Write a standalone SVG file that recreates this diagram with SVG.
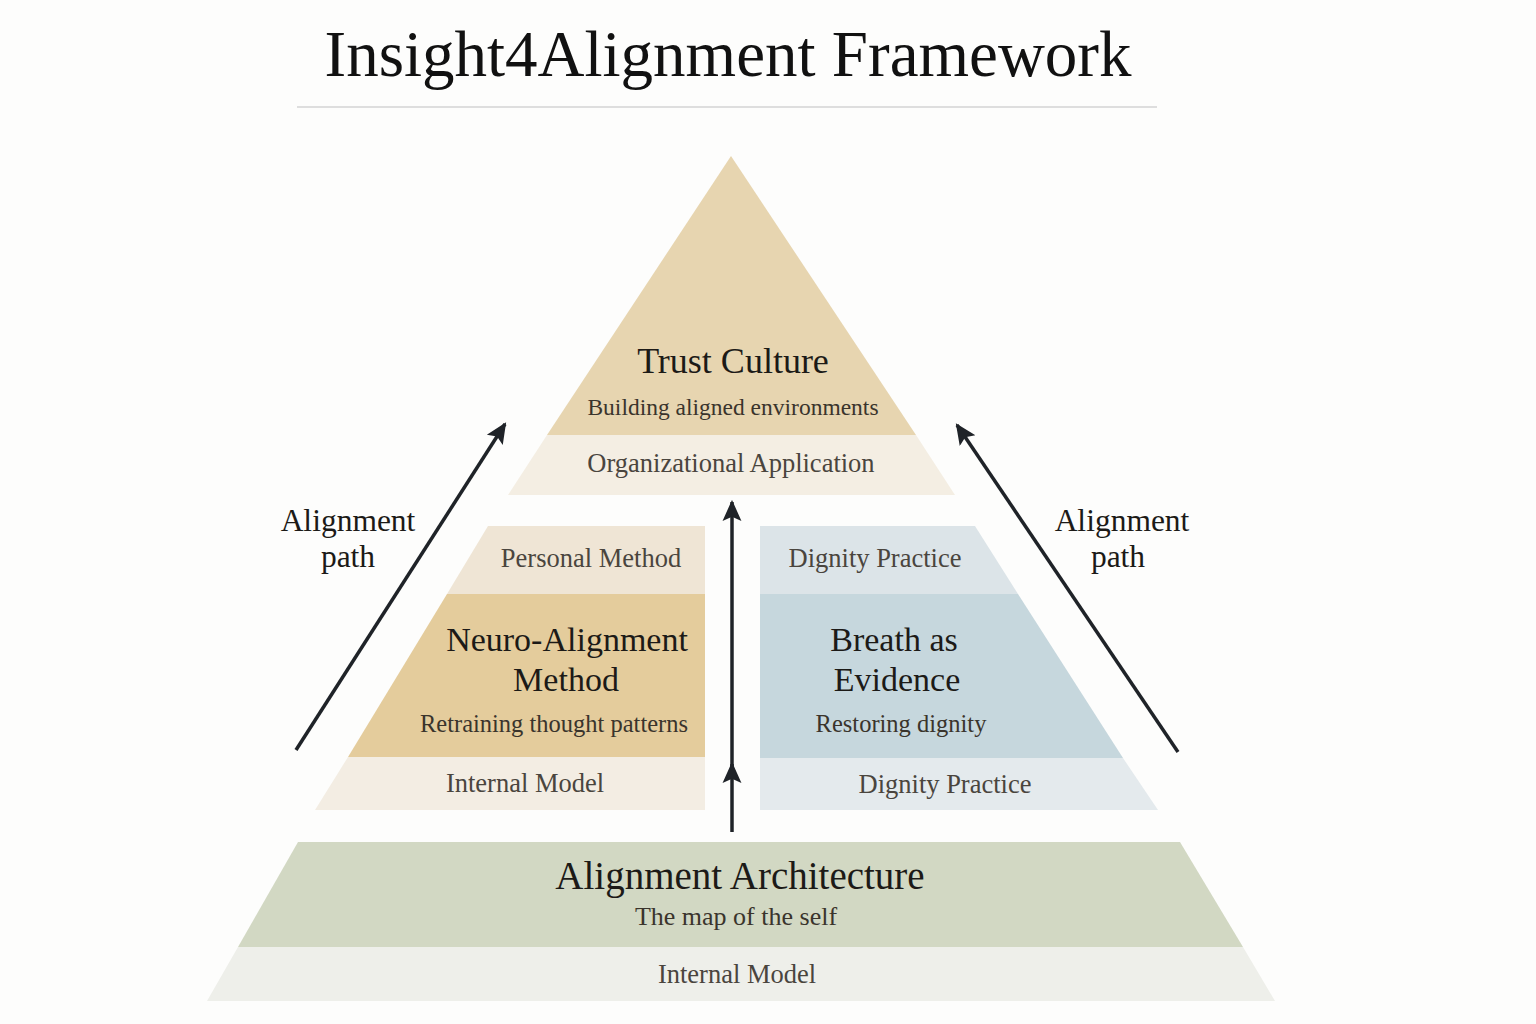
<svg xmlns="http://www.w3.org/2000/svg" width="1536" height="1024" viewBox="0 0 1536 1024">
<defs>
<marker id="ah" viewBox="0 0 20 20" refX="18" refY="10" markerWidth="21" markerHeight="21" markerUnits="userSpaceOnUse" orient="auto">
<path d="M0,1 L20,10 L0,19 L4,10 Z" fill="#1f2328"/>
</marker>
<style>
text{font-family:"Liberation Serif","DejaVu Serif",serif;text-anchor:middle}
.title{font-size:65px;fill:#111}
.h{font-size:34px;fill:#1c1a17}
.s{font-size:24.5px;fill:#3a342c}
.b{font-size:26.5px;fill:#4a453e}
.ap{font-size:31.5px;fill:#1c1a17}
.arr{stroke:#1f2328;stroke-width:3.5;fill:none}
</style>
</defs>
<rect width="1536" height="1024" fill="#fdfdfc"/>
<text class="title" x="728" y="76">Insight4Alignment Framework</text>
<line x1="297" y1="107" x2="1157" y2="107" stroke="#dedede" stroke-width="2"/>

<g id="trust-culture">
<polygon points="731,156 916,435 547,435" fill="#e7d5b0"/>
<polygon points="547,435 916,435 955,495 508,495" fill="#f4eee3"/>
<text class="h" x="733" y="373" style="font-size:36px">Trust Culture</text>
<text class="s" x="733" y="415" style="font-size:23.5px">Building aligned environments</text>
<text class="b" x="731" y="472">Organizational Application</text>
</g>

<g id="neuro-alignment">
<polygon points="488,526 705,526 705,594 447,594" fill="#efe5d5"/>
<polygon points="447,594 705,594 705,757 348,757" fill="#e4cc9c"/>
<polygon points="348,757 705,757 705,810 315,810" fill="#f3ede3"/>
<text class="b" x="591" y="567">Personal Method</text>
<text class="h" x="567" y="651">Neuro-Alignment</text>
<text class="h" x="566" y="691">Method</text>
<text class="s" x="554" y="732">Retraining thought patterns</text>
<text class="b" x="525" y="792">Internal Model</text>
</g>

<g id="breath-evidence">
<polygon points="760,526 975,526 1018,594 760,594" fill="#dce4e8"/>
<polygon points="760,594 1018,594 1123,758 760,758" fill="#c6d7dd"/>
<polygon points="760,758 1123,758 1158,810 760,810" fill="#e4eaed"/>
<text class="b" x="875" y="567">Dignity Practice</text>
<text class="h" x="894" y="651">Breath as</text>
<text class="h" x="897" y="691">Evidence</text>
<text class="s" x="901" y="732">Restoring dignity</text>
<text class="b" x="945" y="793">Dignity Practice</text>
</g>

<g id="alignment-architecture">
<polygon points="298,842 1180,842 1243,947 238,947" fill="#d2d8c3"/>
<polygon points="238,947 1243,947 1275,1001 207,1001" fill="#eeefea"/>
<text class="h" x="740" y="889" style="font-size:39px">Alignment Architecture</text>
<text class="s" x="736" y="925" style="font-size:26px">The map of the self</text>
<text class="b" x="737" y="983">Internal Model</text>
</g>

<g id="labels">
<text class="ap" x="348" y="531">Alignment</text>
<text class="ap" x="348" y="567">path</text>
<text class="ap" x="1122" y="531">Alignment</text>
<text class="ap" x="1118" y="567">path</text>
</g>

<g id="connectors">
<line class="arr" x1="296" y1="750" x2="505" y2="424" marker-end="url(#ah)"/>
<line class="arr" x1="1178" y1="752" x2="957" y2="425" marker-end="url(#ah)"/>
<line class="arr" x1="732" y1="832" x2="732" y2="764" marker-end="url(#ah)"/>
<line class="arr" x1="732" y1="770" x2="732" y2="502" marker-end="url(#ah)"/>
</g>
</svg>
